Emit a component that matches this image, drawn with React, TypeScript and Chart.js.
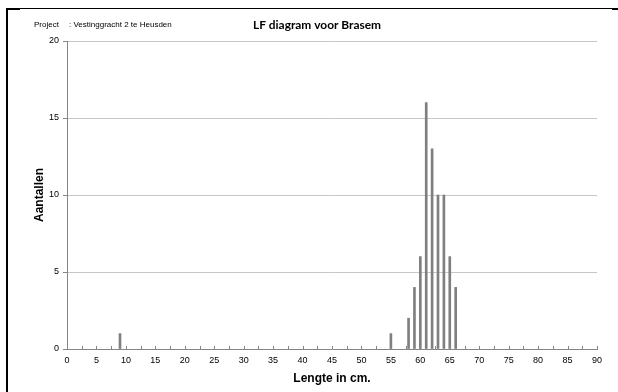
import React, { useEffect, useRef } from "react";
import { Chart, registerables } from "chart.js";

Chart.register(...registerables);

// ---- data ----
const lengths = [9, 55, 58, 59, 60, 61, 62, 63, 64, 65, 66];
const counts = [1, 1, 2, 4, 6, 16, 13, 10, 10, 6, 4];
const xMin = 0;
const xMax = 90;
const xLabelStep = 5;
const xMinorStep = 2.5;
const yMin = 0;
const yMax = 20;
const yStep = 5;

const projectLabel = "Project";
const projectName = ": Vestinggracht 2 te Heusden";
const chartTitle = "LF diagram voor Brasem";
const xTitle = "Lengte in cm.";
const yTitle = "Aantallen";

const ARIAL = '"Liberation Sans", Arial, sans-serif';

const decorPlugin = {
  id: "decor",
  afterDraw(chart: any) {
    const ctx = chart.ctx as CanvasRenderingContext2D;
    const xs = chart.scales.x;
    const bottom = chart.chartArea.bottom;
    ctx.save();
    // minor tick marks on the x axis (pointing inward)
    ctx.strokeStyle = "#868686";
    ctx.lineWidth = 1;
    ctx.beginPath();
    for (let v = xMin; v <= xMax + 1e-9; v += xMinorStep) {
      const px = Math.round(xs.getPixelForValue(v)) + 0.5;
      ctx.moveTo(px, bottom);
      ctx.lineTo(px, bottom - 3);
    }
    ctx.stroke();

    // header texts
    ctx.fillStyle = "#000";
    ctx.textBaseline = "middle";
    ctx.textAlign = "left";
    ctx.font = `8px ${ARIAL}`;
    ctx.fillText(projectLabel, 34, 25);
    ctx.fillText(projectName, 69, 25);

    ctx.font = `bold 13px Lato, "Open Sans", sans-serif`;
    const w = ctx.measureText(chartTitle).width;
    const size = (13 * 128) / w;
    ctx.font = `bold ${size.toFixed(2)}px Lato, "Open Sans", sans-serif`;
    ctx.textAlign = "center";
    ctx.fillText(chartTitle, 317, 25);

    // frame
    ctx.fillStyle = "#000";
    ctx.fillRect(6, 8, 606, 1);
    ctx.fillRect(6, 8, 14, 2);
    ctx.fillRect(612, 8, 6, 2);
    ctx.fillRect(6, 8, 2, 384);
    ctx.restore();
  },
};

export default function App() {
  const ref = useRef<HTMLCanvasElement | null>(null);

  useEffect(() => {
    document.body.style.margin = "0";
    const canvas = ref.current;
    if (!canvas) return;
    const chart = new Chart(canvas, {
      type: "bar",
      data: {
        datasets: [
          {
            data: lengths.map((x, i) => ({ x, y: counts[i] })),
            backgroundColor: "#7f7f7f",
            borderWidth: 0,
            barThickness: 2,
          },
        ],
      },
      options: {
        responsive: false,
        animation: false,
        devicePixelRatio: 1,
        layout: { padding: { top: 41, right: 21, left: 0, bottom: 0 } },
        plugins: {
          legend: { display: false },
          tooltip: { enabled: false },
          title: { display: false },
        },
        scales: {
          x: {
            type: "linear",
            min: xMin,
            max: xMax,
            offset: false,
            afterFit: (s: any) => {
              s.height = 43;
            },
            ticks: {
              stepSize: xLabelStep,
              autoSkip: false,
              maxRotation: 0,
              padding: 6,
              color: "#000",
              font: { family: ARIAL, size: 9 },
            },
            grid: { drawOnChartArea: false, drawTicks: false },
            border: { color: "#868686", width: 1 },
            title: {
              display: true,
              text: xTitle,
              color: "#000",
              font: { family: ARIAL, size: 12, weight: "bold" },
              padding: { top: 6, bottom: 6 },
            },
          },
          y: {
            min: yMin,
            max: yMax,
            afterFit: (s: any) => {
              s.width = 67;
            },
            ticks: {
              stepSize: yStep,
              padding: 4,
              color: "#000",
              font: { family: ARIAL, size: 9 },
            },
            grid: {
              color: "#c6c6c6",
              tickColor: "#868686",
              tickLength: 4,
            },
            border: { color: "#868686", width: 1 },
            title: {
              display: true,
              text: yTitle,
              color: "#000",
              font: { family: ARIAL, size: 12, weight: "bold" },
              padding: { top: 32, bottom: 0 },
            },
          },
        },
      } as any,
      plugins: [decorPlugin],
    });
    return () => chart.destroy();
  }, []);

  return (
    <div style={{ position: "absolute", left: 0, top: 0, width: 618, height: 392, background: "#fff" }}>
      <canvas ref={ref} width={618} height={392} style={{ display: "block" }} />
    </div>
  );
}
